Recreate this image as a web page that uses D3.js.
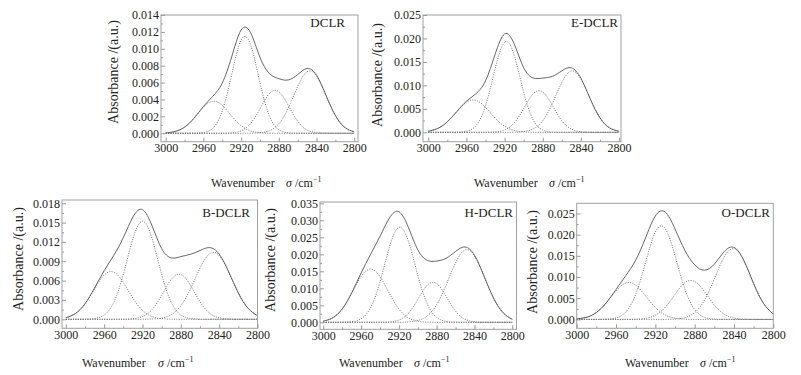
<!DOCTYPE html>
<html>
<head>
<meta charset="utf-8">
<title>DCLR curve fitting</title>
<script src="https://cdn.jsdelivr.net/npm/d3@7/dist/d3.min.js"></script>
<style>
  body { margin: 0; background: #fff; }
  text { font-family: "Liberation Serif", "Times New Roman", serif; fill: #222; }
</style>
</head>
<body>
<svg id="mainsvg" width="801" height="375"></svg>
<script>
  // wavenumber grid shared by every curve (cm-1)
  const wavenumber = [3000, 2990, 2980, 2970, 2960, 2950, 2940, 2930, 2920, 2910, 2900,
    2890, 2880, 2870, 2860, 2850, 2840, 2830, 2820, 2810, 2800];
  const xTicks = [3000, 2960, 2920, 2880, 2840, 2800];
  const xMinorTicks = [2980, 2940, 2900, 2860, 2820];

  // DCLR
  const dclrTotal = [0.00004, 0.00021, 0.00072, 0.00178, 0.00316, 0.00439, 0.00595, 0.00905, 0.01222, 0.01191, 0.00899,
    0.00707, 0.00646, 0.00631, 0.00695, 0.00767, 0.00687, 0.00450, 0.00210, 0.00069, 0.00016];
  const dclrBand1 = [0.00004, 0.00021, 0.00072, 0.00177, 0.00308, 0.00379, 0.00330, 0.00203, 0.00089, 0.00027, 0.00006,
    0.00001, 0, 0, 0, 0, 0, 0, 0, 0, 0];
  const dclrBand2 = [0, 0, 0, 0.00001, 0.00008, 0.00060, 0.00265, 0.00697, 0.01104, 0.01049, 0.00598,
    0.00205, 0.00042, 0.00005, 0, 0, 0, 0, 0, 0, 0];
  const dclrBand3 = [0, 0, 0, 0, 0, 0, 0, 0.00005, 0.00029, 0.00114, 0.00289,
    0.00471, 0.00492, 0.00330, 0.00142, 0.00039, 0.00007, 0.00001, 0, 0, 0];
  const dclrBand4 = [0, 0, 0, 0, 0, 0, 0, 0, 0, 0.00001, 0.00006,
    0.00030, 0.00112, 0.00296, 0.00553, 0.00728, 0.00680, 0.00449, 0.00210, 0.00069, 0.00016];
  const dclrTicks = [0, 0.002, 0.004, 0.006, 0.008, 0.010, 0.012, 0.014];

  // E-DCLR
  const edclrTotal = [0.00023, 0.00083, 0.00224, 0.00444, 0.00662, 0.00823, 0.01097, 0.01657, 0.02098, 0.01888, 0.01377,
    0.01158, 0.01156, 0.01192, 0.01310, 0.01375, 0.01150, 0.00702, 0.00305, 0.00094, 0.00021];
  const edclrBand1 = [0.00023, 0.00083, 0.00224, 0.00442, 0.00640, 0.00681, 0.00532, 0.00305, 0.00128, 0.00040, 0.00009,
    0.00002, 0, 0, 0, 0, 0, 0, 0, 0, 0];
  const edclrBand2 = [0, 0, 0, 0.00002, 0.00022, 0.00142, 0.00564, 0.01344, 0.01920, 0.01648, 0.00849,
    0.00263, 0.00049, 0.00005, 0, 0, 0, 0, 0, 0, 0];
  const edclrBand3 = [0, 0, 0, 0, 0, 0, 0.00001, 0.00008, 0.00050, 0.00198, 0.00504,
    0.00821, 0.00859, 0.00576, 0.00247, 0.00068, 0.00012, 0.00001, 0, 0, 0];
  const edclrBand4 = [0, 0, 0, 0, 0, 0, 0, 0, 0, 0.00002, 0.00015,
    0.00072, 0.00248, 0.00611, 0.01063, 0.01307, 0.01138, 0.00701, 0.00305, 0.00094, 0.00021];
  const edclrTicks = [0, 0.005, 0.010, 0.015, 0.020, 0.025];

  // B-DCLR
  const bdclrTotal = [0.00024, 0.00089, 0.00241, 0.00486, 0.00753, 0.00991, 0.01267, 0.01586, 0.01701, 0.01449, 0.01096,
    0.00952, 0.00972, 0.01008, 0.01066, 0.01112, 0.01011, 0.00733, 0.00408, 0.00173, 0.00055];
  const bdclrBand1 = [0.00024, 0.00089, 0.00240, 0.00474, 0.00686, 0.00730, 0.00570, 0.00327, 0.00138, 0.00043, 0.00010,
    0.00002, 0, 0, 0, 0, 0, 0, 0, 0, 0];
  const bdclrBand2 = [0, 0, 0.00001, 0.00012, 0.00067, 0.00261, 0.00696, 0.01251, 0.01520, 0.01251, 0.00696,
    0.00261, 0.00067, 0.00012, 0.00001, 0, 0, 0, 0, 0, 0];
  const bdclrBand3 = [0, 0, 0, 0, 0, 0, 0.00001, 0.00008, 0.00042, 0.00151, 0.00372,
    0.00618, 0.00695, 0.00528, 0.00272, 0.00095, 0.00022, 0.00004, 0, 0, 0];
  const bdclrBand4 = [0, 0, 0, 0, 0, 0, 0, 0, 0.00001, 0.00004, 0.00018,
    0.00071, 0.00210, 0.00468, 0.00793, 0.01017, 0.00989, 0.00729, 0.00408, 0.00173, 0.00055];
  const bdclrTicks = [0, 0.003, 0.006, 0.009, 0.012, 0.015, 0.018];

  // H-DCLR
  const hdclrTotal = [0.00033, 0.00133, 0.00393, 0.00863, 0.01450, 0.01998, 0.02530, 0.03069, 0.03253, 0.02797, 0.02135,
    0.01823, 0.01802, 0.01885, 0.02084, 0.02217, 0.01974, 0.01367, 0.00723, 0.00290, 0.00088];
  const hdclrBand1 = [0.00033, 0.00133, 0.00391, 0.00846, 0.01345, 0.01570, 0.01345, 0.00846, 0.00391, 0.00133, 0.00033,
    0.00006, 0.00001, 0, 0, 0, 0, 0, 0, 0, 0];
  const hdclrBand2 = [0, 0, 0.00002, 0.00017, 0.00105, 0.00428, 0.01184, 0.02212, 0.02794, 0.02391, 0.01383,
    0.00542, 0.00144, 0.00026, 0.00003, 0, 0, 0, 0, 0, 0];
  const hdclrBand3 = [0, 0, 0, 0, 0, 0, 0.00001, 0.00011, 0.00066, 0.00263, 0.00668,
    0.01089, 0.01139, 0.00763, 0.00328, 0.00090, 0.00016, 0.00002, 0, 0, 0];
  const hdclrBand4 = [0, 0, 0, 0, 0, 0, 0, 0, 0.00002, 0.00010, 0.00051,
    0.00186, 0.00518, 0.01096, 0.01753, 0.02127, 0.01958, 0.01365, 0.00723, 0.00290, 0.00088];
  const hdclrTicks = [0, 0.005, 0.010, 0.015, 0.020, 0.025, 0.030, 0.035];

  // O-DCLR
  const odclrTotal = [0.00011, 0.00050, 0.00162, 0.00390, 0.00705, 0.01034, 0.01400, 0.01921, 0.02440, 0.02533, 0.02135,
    0.01630, 0.01287, 0.01161, 0.01303, 0.01598, 0.01699, 0.01392, 0.00846, 0.00379, 0.00125];
  const odclrBand1 = [0.00011, 0.00050, 0.00162, 0.00385, 0.00670, 0.00858, 0.00806, 0.00557, 0.00282, 0.00105, 0.00029,
    0.00006, 0.00001, 0, 0, 0, 0, 0, 0, 0, 0];
  const odclrBand2 = [0, 0, 0, 0.00005, 0.00035, 0.00176, 0.00590, 0.01340, 0.02060, 0.02142, 0.01507,
    0.00718, 0.00231, 0.00050, 0.00007, 0.00001, 0, 0, 0, 0, 0];
  const odclrBand3 = [0, 0, 0, 0, 0, 0, 0.00004, 0.00024, 0.00098, 0.00285, 0.00591,
    0.00865, 0.00895, 0.00655, 0.00339, 0.00124, 0.00032, 0.00006, 0.00001, 0, 0];
  const odclrBand4 = [0, 0, 0, 0, 0, 0, 0, 0, 0, 0.00001, 0.00008,
    0.00041, 0.00160, 0.00456, 0.00957, 0.01473, 0.01667, 0.01386, 0.00845, 0.00379, 0.00125];
  const odclrTicks = [0, 0.005, 0.010, 0.015, 0.020, 0.025];

  // layout of the five panels: frame = [left, right, top, bottom]
  const panels = [
    { name: 'DCLR', total: dclrTotal, bands: [dclrBand1, dclrBand2, dclrBand3, dclrBand4], ticks: dclrTicks,
      frame: [161, 358, 15, 141.7], xDomain: [3005, 2796], yDomain: [-0.001, 0.014],
      label: [345, 27], yTitle: [113, 72], xTitle: [211, 286, 187] },
    { name: 'E-DCLR', total: edclrTotal, bands: [edclrBand1, edclrBand2, edclrBand3, edclrBand4], ticks: edclrTicks,
      frame: [423, 621, 15, 141.7], xDomain: [3005.5, 2798], yDomain: [-0.002, 0.025],
      label: [618, 27], yTitle: [377, 75], xTitle: [474, 549, 187] },
    { name: 'B-DCLR', total: bdclrTotal, bands: [bdclrBand1, bdclrBand2, bdclrBand3, bdclrBand4], ticks: bdclrTicks,
      frame: [62, 257.5, 200, 328.3], xDomain: [3004, 2800], yDomain: [-0.0014, 0.0185],
      label: [250, 217], yTitle: [18, 259], xTitle: [82, 158, 367] },
    { name: 'H-DCLR', total: hdclrTotal, bands: [hdclrBand1, hdclrBand2, hdclrBand3, hdclrBand4], ticks: hdclrTicks,
      frame: [320, 516.5, 202, 329.3], xDomain: [3003.5, 2795.5], yDomain: [-0.00206, 0.0354],
      label: [513, 217], yTitle: [270, 260], xTitle: [339, 414, 367] },
    { name: 'O-DCLR', total: odclrTotal, bands: [odclrBand1, odclrBand2, odclrBand3, odclrBand4], ticks: odclrTicks,
      frame: [576.7, 773.3, 203.3, 328.3], xDomain: [3000, 2800], yDomain: [-0.0021, 0.0274],
      label: [770, 217], yTitle: [532, 262], xTitle: [625, 700, 367] }
  ];

  const svg = d3.select('#mainsvg');

  panels.forEach(p => {
    const [left, right, top, bottom] = p.frame;
    const x = d3.scaleLinear().domain(p.xDomain).range([left, right]);
    const y = d3.scaleLinear().domain(p.yDomain).range([bottom, top]);
    const g = svg.append('g');

    const line = d3.line()
      .x((d, i) => x(wavenumber[i]))
      .y(d => y(d))
      .curve(d3.curveNatural);

    // fitted bands (dotted)
    p.bands.forEach(b => {
      g.append('path')
        .attr('d', line(b))
        .attr('fill', 'none')
        .attr('stroke', '#666')
        .attr('stroke-width', 0.9)
        .attr('stroke-dasharray', '1,1.4');
    });
    // measured envelope
    g.append('path')
      .attr('d', line(p.total))
      .attr('fill', 'none')
      .attr('stroke', '#555')
      .attr('stroke-width', 0.9);

    g.append('rect')
      .attr('x', left).attr('y', top)
      .attr('width', right - left).attr('height', bottom - top)
      .attr('fill', 'none').attr('stroke', '#a0a0a0').attr('stroke-width', 1);

    // x axis, ticks pointing inward
    g.append('g').attr('transform', `translate(0,${bottom})`)
      .call(d3.axisBottom(x).tickValues(xTicks).tickSize(-4).tickPadding(2).tickFormat(d3.format('d')));
    g.append('g').attr('transform', `translate(0,${bottom})`)
      .call(d3.axisBottom(x).tickValues(xMinorTicks).tickSize(-2).tickFormat(''));

    g.append('g').attr('transform', `translate(${left},0)`)
      .call(d3.axisLeft(y).tickValues(p.ticks).tickSize(-4).tickPadding(2).tickFormat(d3.format('.3f')));
    const minor = p.ticks.slice(1).map((t, i) => (t + p.ticks[i]) / 2);
    g.append('g').attr('transform', `translate(${left},0)`)
      .call(d3.axisLeft(y).tickValues(minor).tickSize(-2).tickFormat(''));

    g.selectAll('.domain').remove();
    g.selectAll('.tick line').attr('stroke', '#999');
    g.selectAll('.tick text').attr('font-size', 12).attr('fill', '#222');

    g.append('text')
      .attr('x', p.label[0]).attr('y', p.label[1])
      .attr('text-anchor', 'end')
      .attr('font-size', 13)
      .text(p.name);

    g.append('text')
      .attr('transform', `translate(${p.yTitle[0]},${p.yTitle[1]}) rotate(-90)`)
      .attr('text-anchor', 'middle')
      .attr('dy', '0.35em')
      .attr('font-size', 14)
      .text('Absorbance /(a.u.)');

    g.append('text')
      .attr('x', p.xTitle[0]).attr('y', p.xTitle[2])
      .attr('font-size', 12)
      .text('Wavenumber');
    const unit = g.append('text')
      .attr('x', p.xTitle[1]).attr('y', p.xTitle[2])
      .attr('font-size', 12);
    unit.append('tspan').attr('font-style', 'italic').text('σ');
    unit.append('tspan').text(' /cm');
    unit.append('tspan').attr('dy', -5).attr('font-size', 8).text('−1');
  });
</script>
</body>
</html>
